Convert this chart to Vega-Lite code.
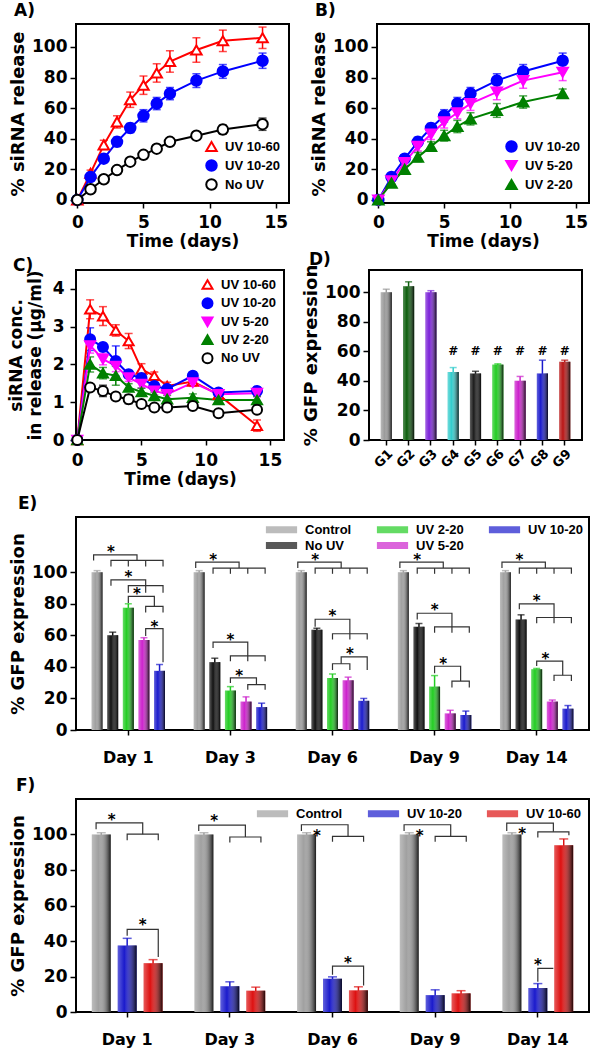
{
"$schema": "https://vega.github.io/schema/vega-lite/v6.json",
"padding": {"left": 6, "top": 1, "right": 0, "bottom": 0},
"background": "white",
"datasets": {
"relA": [
{"s":"UV 10-60","t":0,"v":0,"e":0},{"s":"UV 10-60","t":1,"v":17.5,"e":2},{"s":"UV 10-60","t":2,"v":36,"e":3},{"s":"UV 10-60","t":3,"v":51,"e":4},{"s":"UV 10-60","t":4,"v":65.5,"e":5},{"s":"UV 10-60","t":5,"v":75,"e":6},{"s":"UV 10-60","t":6,"v":83,"e":6},{"s":"UV 10-60","t":7,"v":90.5,"e":7},{"s":"UV 10-60","t":9,"v":98,"e":8},{"s":"UV 10-60","t":11,"v":104,"e":7},{"s":"UV 10-60","t":14,"v":106,"e":7},
{"s":"UV 10-20","t":0,"v":0,"e":0},{"s":"UV 10-20","t":1,"v":15,"e":2},{"s":"UV 10-20","t":2,"v":27,"e":2.5},{"s":"UV 10-20","t":3,"v":38,"e":3},{"s":"UV 10-20","t":4,"v":47,"e":3},{"s":"UV 10-20","t":5,"v":55,"e":4},{"s":"UV 10-20","t":6,"v":63,"e":4},{"s":"UV 10-20","t":7,"v":69.5,"e":4},{"s":"UV 10-20","t":9,"v":78,"e":4.5},{"s":"UV 10-20","t":11,"v":84,"e":4.5},{"s":"UV 10-20","t":14,"v":91,"e":5},
{"s":"No UV","t":0,"v":0,"e":0},{"s":"No UV","t":1,"v":7,"e":1.5},{"s":"No UV","t":2,"v":13.5,"e":1.5},{"s":"No UV","t":3,"v":19.5,"e":1.5},{"s":"No UV","t":4,"v":25,"e":2},{"s":"No UV","t":5,"v":29.5,"e":2},{"s":"No UV","t":6,"v":33.5,"e":2},{"s":"No UV","t":7,"v":38,"e":2},{"s":"No UV","t":9,"v":42,"e":2.5},{"s":"No UV","t":11,"v":46,"e":3},{"s":"No UV","t":14,"v":49.5,"e":4}
],
"relB": [
{"s":"UV 10-20","t":0,"v":0,"e":0},{"s":"UV 10-20","t":1,"v":15,"e":2},{"s":"UV 10-20","t":2,"v":27,"e":2.5},{"s":"UV 10-20","t":3,"v":38,"e":3},{"s":"UV 10-20","t":4,"v":47,"e":3},{"s":"UV 10-20","t":5,"v":55,"e":4},{"s":"UV 10-20","t":6,"v":63,"e":4},{"s":"UV 10-20","t":7,"v":69.5,"e":4},{"s":"UV 10-20","t":9,"v":78,"e":4.5},{"s":"UV 10-20","t":11,"v":84,"e":4.5},{"s":"UV 10-20","t":14,"v":91,"e":5},
{"s":"UV 5-20","t":0,"v":0,"e":0},{"s":"UV 5-20","t":1,"v":12.5,"e":2},{"s":"UV 5-20","t":2,"v":24.5,"e":2.5},{"s":"UV 5-20","t":3,"v":35,"e":3},{"s":"UV 5-20","t":4,"v":43,"e":3.5},{"s":"UV 5-20","t":5,"v":51,"e":4},{"s":"UV 5-20","t":6,"v":57,"e":4},{"s":"UV 5-20","t":7,"v":63,"e":4.5},{"s":"UV 5-20","t":9,"v":70.5,"e":5},{"s":"UV 5-20","t":11,"v":78,"e":5},{"s":"UV 5-20","t":14,"v":83.5,"e":5.5},
{"s":"UV 2-20","t":0,"v":0,"e":0},{"s":"UV 2-20","t":1,"v":11,"e":2},{"s":"UV 2-20","t":2,"v":20,"e":2.5},{"s":"UV 2-20","t":3,"v":28,"e":3},{"s":"UV 2-20","t":4,"v":35,"e":3},{"s":"UV 2-20","t":5,"v":42,"e":3.5},{"s":"UV 2-20","t":6,"v":48,"e":4},{"s":"UV 2-20","t":7,"v":53,"e":4},{"s":"UV 2-20","t":9,"v":58.5,"e":4.5},{"s":"UV 2-20","t":11,"v":64,"e":4},{"s":"UV 2-20","t":14,"v":69.5,"e":3}
],
"conc": [
{"s":"UV 10-60","t":0,"v":0,"e":0},{"s":"UV 10-60","t":1,"v":3.46,"e":0.25},{"s":"UV 10-60","t":2,"v":3.28,"e":0.25},{"s":"UV 10-60","t":3,"v":2.9,"e":0.15},{"s":"UV 10-60","t":4,"v":2.62,"e":0.2},{"s":"UV 10-60","t":5,"v":1.87,"e":0.15},{"s":"UV 10-60","t":6,"v":1.7,"e":0.1},{"s":"UV 10-60","t":7,"v":1.43,"e":0.1},{"s":"UV 10-60","t":9,"v":1.55,"e":0.1},{"s":"UV 10-60","t":11,"v":1.2,"e":0.1},{"s":"UV 10-60","t":14,"v":0.38,"e":0.15},
{"s":"UV 10-20","t":0,"v":0,"e":0},{"s":"UV 10-20","t":1,"v":2.67,"e":0.3},{"s":"UV 10-20","t":2,"v":2.46,"e":0.1},{"s":"UV 10-20","t":3,"v":2.09,"e":0.4},{"s":"UV 10-20","t":4,"v":1.74,"e":0.1},{"s":"UV 10-20","t":5,"v":1.64,"e":0.1},{"s":"UV 10-20","t":6,"v":1.43,"e":0.1},{"s":"UV 10-20","t":7,"v":1.35,"e":0.1},{"s":"UV 10-20","t":9,"v":1.7,"e":0.1},{"s":"UV 10-20","t":11,"v":1.26,"e":0.1},{"s":"UV 10-20","t":14,"v":1.3,"e":0.1},
{"s":"UV 5-20","t":0,"v":0,"e":0},{"s":"UV 5-20","t":1,"v":2.5,"e":0.2},{"s":"UV 5-20","t":2,"v":2.14,"e":0.15},{"s":"UV 5-20","t":3,"v":1.96,"e":0.15},{"s":"UV 5-20","t":4,"v":1.65,"e":0.1},{"s":"UV 5-20","t":5,"v":1.48,"e":0.1},{"s":"UV 5-20","t":6,"v":1.3,"e":0.1},{"s":"UV 5-20","t":7,"v":1.21,"e":0.1},{"s":"UV 5-20","t":9,"v":1.52,"e":0.1},{"s":"UV 5-20","t":11,"v":1.21,"e":0.1},{"s":"UV 5-20","t":14,"v":1.24,"e":0.1},
{"s":"UV 2-20","t":0,"v":0,"e":0},{"s":"UV 2-20","t":1,"v":2.0,"e":0.2},{"s":"UV 2-20","t":2,"v":1.77,"e":0.15},{"s":"UV 2-20","t":3,"v":1.7,"e":0.25},{"s":"UV 2-20","t":4,"v":1.39,"e":0.1},{"s":"UV 2-20","t":5,"v":1.27,"e":0.1},{"s":"UV 2-20","t":6,"v":1.17,"e":0.1},{"s":"UV 2-20","t":7,"v":1.08,"e":0.1},{"s":"UV 2-20","t":9,"v":1.12,"e":0.1},{"s":"UV 2-20","t":11,"v":1.06,"e":0.1},{"s":"UV 2-20","t":14,"v":1.06,"e":0.1},
{"s":"No UV","t":0,"v":0,"e":0},{"s":"No UV","t":1,"v":1.39,"e":0.05},{"s":"No UV","t":2,"v":1.3,"e":0.15},{"s":"No UV","t":3,"v":1.15,"e":0.1},{"s":"No UV","t":4,"v":1.08,"e":0.12},{"s":"No UV","t":5,"v":0.95,"e":0.08},{"s":"No UV","t":6,"v":0.86,"e":0.05},{"s":"No UV","t":7,"v":0.86,"e":0.05},{"s":"No UV","t":9,"v":0.9,"e":0.05},{"s":"No UV","t":11,"v":0.71,"e":0.05},{"s":"No UV","t":14,"v":0.8,"e":0.05}
],
"gfpD": [
{"g":"G1","v":100,"e":2,"sig":""},{"g":"G2","v":104,"e":3,"sig":""},{"g":"G3","v":100,"e":1,"sig":""},{"g":"G4","v":46,"e":3,"sig":"#"},{"g":"G5","v":45,"e":1.5,"sig":"#"},{"g":"G6","v":51,"e":0.5,"sig":"#"},{"g":"G7","v":40,"e":3,"sig":"#"},{"g":"G8","v":45,"e":9,"sig":"#"},{"g":"G9","v":53,"e":1,"sig":"#"}
],
"gfpE": [
{"day":"Day 1","s":"Control","v":100,"e":1},{"day":"Day 1","s":"No UV","v":60,"e":2},{"day":"Day 1","s":"UV 2-20","v":77.5,"e":2.5},{"day":"Day 1","s":"UV 5-20","v":57,"e":1.5},{"day":"Day 1","s":"UV 10-20","v":37.5,"e":4},
{"day":"Day 3","s":"Control","v":100,"e":1},{"day":"Day 3","s":"No UV","v":43,"e":2.5},{"day":"Day 3","s":"UV 2-20","v":25,"e":2.5},{"day":"Day 3","s":"UV 5-20","v":18,"e":3},{"day":"Day 3","s":"UV 10-20","v":14.5,"e":2.5},
{"day":"Day 6","s":"Control","v":100,"e":1},{"day":"Day 6","s":"No UV","v":63.5,"e":1},{"day":"Day 6","s":"UV 2-20","v":33,"e":2.5},{"day":"Day 6","s":"UV 5-20","v":31.5,"e":2},{"day":"Day 6","s":"UV 10-20","v":18.5,"e":1.5},
{"day":"Day 9","s":"Control","v":100,"e":1},{"day":"Day 9","s":"No UV","v":65.5,"e":2},{"day":"Day 9","s":"UV 2-20","v":27.5,"e":7},{"day":"Day 9","s":"UV 5-20","v":10.5,"e":2},{"day":"Day 9","s":"UV 10-20","v":9.5,"e":2.5},
{"day":"Day 14","s":"Control","v":100,"e":1},{"day":"Day 14","s":"No UV","v":70,"e":3},{"day":"Day 14","s":"UV 2-20","v":38.5,"e":0.5},{"day":"Day 14","s":"UV 5-20","v":18,"e":1},{"day":"Day 14","s":"UV 10-20","v":13.5,"e":2}
],
"gfpF": [
{"day":"Day 1","s":"Control","v":100,"e":1},{"day":"Day 1","s":"UV 10-20","v":37.5,"e":4},{"day":"Day 1","s":"UV 10-60","v":27.5,"e":2},
{"day":"Day 3","s":"Control","v":100,"e":1},{"day":"Day 3","s":"UV 10-20","v":14.5,"e":2.5},{"day":"Day 3","s":"UV 10-60","v":12,"e":2},
{"day":"Day 6","s":"Control","v":100,"e":1},{"day":"Day 6","s":"UV 10-20","v":18.8,"e":1},{"day":"Day 6","s":"UV 10-60","v":12.2,"e":2},
{"day":"Day 9","s":"Control","v":100,"e":1},{"day":"Day 9","s":"UV 10-20","v":9.5,"e":3},{"day":"Day 9","s":"UV 10-60","v":10.5,"e":1.5},
{"day":"Day 14","s":"Control","v":100,"e":1},{"day":"Day 14","s":"UV 10-20","v":13.5,"e":2.5},{"day":"Day 14","s":"UV 10-60","v":94,"e":3.5}
],
"brE": [
{"day":"Day 1","id":"1a1","k":1,"p":"Control","v":107.5},{"day":"Day 1","id":"1a1","k":2,"p":"Control","v":111},{"day":"Day 1","id":"1a1","k":3,"p":"m3","v":111},{"day":"Day 1","id":"1a1","k":4,"p":"m3","v":107.5},
{"day":"Day 1","id":"1a2","k":1,"p":"No UV","v":103.6},{"day":"Day 1","id":"1a2","k":2,"p":"No UV","v":107.5},{"day":"Day 1","id":"1a2","k":3,"p":"UV 10-20","v":107.5},{"day":"Day 1","id":"1a2","k":4,"p":"UV 10-20","v":103.6},
{"day":"Day 1","id":"1a3","k":1,"p":"UV 2-20","v":107.5},{"day":"Day 1","id":"1a3","k":2,"p":"UV 2-20","v":103.6},
{"day":"Day 1","id":"1a4","k":1,"p":"UV 5-20","v":107.5},{"day":"Day 1","id":"1a4","k":2,"p":"UV 5-20","v":103.6},
{"day":"Day 1","id":"1b1","k":1,"p":"No UV","v":91.5},{"day":"Day 1","id":"1b1","k":2,"p":"No UV","v":95.1},{"day":"Day 1","id":"1b1","k":3,"p":"UV 5-20","v":95.1},{"day":"Day 1","id":"1b1","k":4,"p":"UV 5-20","v":87},
{"day":"Day 1","id":"1b2","k":1,"p":"UV 2-20","v":87},{"day":"Day 1","id":"1b2","k":2,"p":"UV 2-20","v":91.5},{"day":"Day 1","id":"1b2","k":3,"p":"UV 10-20","v":91.5},{"day":"Day 1","id":"1b2","k":4,"p":"UV 10-20","v":87},
{"day":"Day 1","id":"1c1","k":1,"p":"UV 2-20","v":80.5},{"day":"Day 1","id":"1c1","k":2,"p":"UV 2-20","v":84.7},{"day":"Day 1","id":"1c1","k":3,"p":"m4","v":84.7},{"day":"Day 1","id":"1c1","k":4,"p":"m4","v":78.3},
{"day":"Day 1","id":"1c2","k":1,"p":"UV 5-20","v":74.5},{"day":"Day 1","id":"1c2","k":2,"p":"UV 5-20","v":78.3},{"day":"Day 1","id":"1c2","k":3,"p":"UV 10-20","v":78.3},{"day":"Day 1","id":"1c2","k":4,"p":"UV 10-20","v":74.5},
{"day":"Day 1","id":"1d1","k":1,"p":"UV 5-20","v":59.6},{"day":"Day 1","id":"1d1","k":2,"p":"UV 5-20","v":64.3},{"day":"Day 1","id":"1d1","k":3,"p":"UV 10-20","v":64.3},{"day":"Day 1","id":"1d1","k":4,"p":"UV 10-20","v":43},
{"day":"Day 3","id":"3a1","k":1,"p":"Control","v":102.6},{"day":"Day 3","id":"3a1","k":2,"p":"Control","v":106.4},{"day":"Day 3","id":"3a1","k":3,"p":"m3","v":106.4},{"day":"Day 3","id":"3a1","k":4,"p":"m3","v":102.6},
{"day":"Day 3","id":"3a2","k":1,"p":"No UV","v":99},{"day":"Day 3","id":"3a2","k":2,"p":"No UV","v":102.6},{"day":"Day 3","id":"3a2","k":3,"p":"UV 10-20","v":102.6},{"day":"Day 3","id":"3a2","k":4,"p":"UV 10-20","v":99},
{"day":"Day 3","id":"3a3","k":1,"p":"UV 2-20","v":102.6},{"day":"Day 3","id":"3a3","k":2,"p":"UV 2-20","v":99},
{"day":"Day 3","id":"3a4","k":1,"p":"UV 5-20","v":102.6},{"day":"Day 3","id":"3a4","k":2,"p":"UV 5-20","v":99},
{"day":"Day 3","id":"3b1","k":1,"p":"No UV","v":52},{"day":"Day 3","id":"3b1","k":2,"p":"No UV","v":55.7},{"day":"Day 3","id":"3b1","k":3,"p":"UV 5-20","v":55.7},{"day":"Day 3","id":"3b1","k":4,"p":"UV 5-20","v":43.6},
{"day":"Day 3","id":"3b2","k":1,"p":"UV 2-20","v":43.6},{"day":"Day 3","id":"3b2","k":2,"p":"UV 2-20","v":47},{"day":"Day 3","id":"3b2","k":3,"p":"UV 10-20","v":47},{"day":"Day 3","id":"3b2","k":4,"p":"UV 10-20","v":43.6},
{"day":"Day 3","id":"3c1","k":1,"p":"UV 2-20","v":29.8},{"day":"Day 3","id":"3c1","k":2,"p":"UV 2-20","v":33},{"day":"Day 3","id":"3c1","k":3,"p":"m4","v":33},{"day":"Day 3","id":"3c1","k":4,"p":"m4","v":28.7},
{"day":"Day 3","id":"3c2","k":1,"p":"UV 5-20","v":25.5},{"day":"Day 3","id":"3c2","k":2,"p":"UV 5-20","v":28.7},{"day":"Day 3","id":"3c2","k":3,"p":"UV 10-20","v":28.7},{"day":"Day 3","id":"3c2","k":4,"p":"UV 10-20","v":25.5},
{"day":"Day 6","id":"6a1","k":1,"p":"Control","v":102.6},{"day":"Day 6","id":"6a1","k":2,"p":"Control","v":106.4},{"day":"Day 6","id":"6a1","k":3,"p":"m3","v":106.4},{"day":"Day 6","id":"6a1","k":4,"p":"m3","v":102.6},
{"day":"Day 6","id":"6a2","k":1,"p":"No UV","v":99},{"day":"Day 6","id":"6a2","k":2,"p":"No UV","v":102.6},{"day":"Day 6","id":"6a2","k":3,"p":"UV 10-20","v":102.6},{"day":"Day 6","id":"6a2","k":4,"p":"UV 10-20","v":99},
{"day":"Day 6","id":"6a3","k":1,"p":"UV 2-20","v":102.6},{"day":"Day 6","id":"6a3","k":2,"p":"UV 2-20","v":99},
{"day":"Day 6","id":"6a4","k":1,"p":"UV 5-20","v":102.6},{"day":"Day 6","id":"6a4","k":2,"p":"UV 5-20","v":99},
{"day":"Day 6","id":"6b1","k":1,"p":"No UV","v":65.5},{"day":"Day 6","id":"6b1","k":2,"p":"No UV","v":70.2},{"day":"Day 6","id":"6b1","k":3,"p":"UV 5-20","v":70.2},{"day":"Day 6","id":"6b1","k":4,"p":"UV 5-20","v":57.4},
{"day":"Day 6","id":"6b2","k":1,"p":"UV 2-20","v":57.4},{"day":"Day 6","id":"6b2","k":2,"p":"UV 2-20","v":61},{"day":"Day 6","id":"6b2","k":3,"p":"UV 10-20","v":61},{"day":"Day 6","id":"6b2","k":4,"p":"UV 10-20","v":57.4},
{"day":"Day 6","id":"6c1","k":1,"p":"m3","v":42},{"day":"Day 6","id":"6c1","k":2,"p":"m3","v":46.4},{"day":"Day 6","id":"6c1","k":3,"p":"UV 10-20","v":46.4},{"day":"Day 6","id":"6c1","k":4,"p":"UV 10-20","v":38},
{"day":"Day 6","id":"6c2","k":1,"p":"UV 2-20","v":38},{"day":"Day 6","id":"6c2","k":2,"p":"UV 2-20","v":42},{"day":"Day 6","id":"6c2","k":3,"p":"UV 5-20","v":42},{"day":"Day 6","id":"6c2","k":4,"p":"UV 5-20","v":38},
{"day":"Day 9","id":"9a1","k":1,"p":"Control","v":102.6},{"day":"Day 9","id":"9a1","k":2,"p":"Control","v":106.4},{"day":"Day 9","id":"9a1","k":3,"p":"m3","v":106.4},{"day":"Day 9","id":"9a1","k":4,"p":"m3","v":102.6},
{"day":"Day 9","id":"9a2","k":1,"p":"No UV","v":99},{"day":"Day 9","id":"9a2","k":2,"p":"No UV","v":102.6},{"day":"Day 9","id":"9a2","k":3,"p":"UV 10-20","v":102.6},{"day":"Day 9","id":"9a2","k":4,"p":"UV 10-20","v":99},
{"day":"Day 9","id":"9a3","k":1,"p":"UV 2-20","v":102.6},{"day":"Day 9","id":"9a3","k":2,"p":"UV 2-20","v":99},
{"day":"Day 9","id":"9a4","k":1,"p":"UV 5-20","v":102.6},{"day":"Day 9","id":"9a4","k":2,"p":"UV 5-20","v":99},
{"day":"Day 9","id":"9b1","k":1,"p":"No UV","v":70},{"day":"Day 9","id":"9b1","k":2,"p":"No UV","v":74},{"day":"Day 9","id":"9b1","k":3,"p":"UV 5-20","v":74},{"day":"Day 9","id":"9b1","k":4,"p":"UV 5-20","v":61.7},
{"day":"Day 9","id":"9b2","k":1,"p":"UV 2-20","v":61.7},{"day":"Day 9","id":"9b2","k":2,"p":"UV 2-20","v":65.3},{"day":"Day 9","id":"9b2","k":3,"p":"UV 10-20","v":65.3},{"day":"Day 9","id":"9b2","k":4,"p":"UV 10-20","v":61.7},
{"day":"Day 9","id":"9c1","k":1,"p":"UV 2-20","v":36},{"day":"Day 9","id":"9c1","k":2,"p":"UV 2-20","v":40.4},{"day":"Day 9","id":"9c1","k":3,"p":"m4","v":40.4},{"day":"Day 9","id":"9c1","k":4,"p":"m4","v":31},
{"day":"Day 9","id":"9c2","k":1,"p":"UV 5-20","v":27},{"day":"Day 9","id":"9c2","k":2,"p":"UV 5-20","v":31},{"day":"Day 9","id":"9c2","k":3,"p":"UV 10-20","v":31},{"day":"Day 9","id":"9c2","k":4,"p":"UV 10-20","v":27},
{"day":"Day 14","id":"14a1","k":1,"p":"Control","v":102.6},{"day":"Day 14","id":"14a1","k":2,"p":"Control","v":106.4},{"day":"Day 14","id":"14a1","k":3,"p":"m3","v":106.4},{"day":"Day 14","id":"14a1","k":4,"p":"m3","v":102.6},
{"day":"Day 14","id":"14a2","k":1,"p":"No UV","v":99},{"day":"Day 14","id":"14a2","k":2,"p":"No UV","v":102.6},{"day":"Day 14","id":"14a2","k":3,"p":"UV 10-20","v":102.6},{"day":"Day 14","id":"14a2","k":4,"p":"UV 10-20","v":99},
{"day":"Day 14","id":"14a3","k":1,"p":"UV 2-20","v":102.6},{"day":"Day 14","id":"14a3","k":2,"p":"UV 2-20","v":99},
{"day":"Day 14","id":"14a4","k":1,"p":"UV 5-20","v":102.6},{"day":"Day 14","id":"14a4","k":2,"p":"UV 5-20","v":99},
{"day":"Day 14","id":"14b1","k":1,"p":"No UV","v":76.6},{"day":"Day 14","id":"14b1","k":2,"p":"No UV","v":80},{"day":"Day 14","id":"14b1","k":3,"p":"UV 5-20","v":80},{"day":"Day 14","id":"14b1","k":4,"p":"UV 5-20","v":67.7},
{"day":"Day 14","id":"14b2","k":1,"p":"UV 2-20","v":67.7},{"day":"Day 14","id":"14b2","k":2,"p":"UV 2-20","v":71.3},{"day":"Day 14","id":"14b2","k":3,"p":"UV 10-20","v":71.3},{"day":"Day 14","id":"14b2","k":4,"p":"UV 10-20","v":67.7},
{"day":"Day 14","id":"14c1","k":1,"p":"UV 2-20","v":40.5},{"day":"Day 14","id":"14c1","k":2,"p":"UV 2-20","v":43.6},{"day":"Day 14","id":"14c1","k":3,"p":"m4","v":43.6},{"day":"Day 14","id":"14c1","k":4,"p":"m4","v":34.7},
{"day":"Day 14","id":"14c2","k":1,"p":"UV 5-20","v":31},{"day":"Day 14","id":"14c2","k":2,"p":"UV 5-20","v":34.7},{"day":"Day 14","id":"14c2","k":3,"p":"UV 10-20","v":34.7},{"day":"Day 14","id":"14c2","k":4,"p":"UV 10-20","v":31}
],
"starE": [
{"day":"Day 1","p":"No UV","v":115.5},{"day":"Day 1","p":"UV 2-20","v":99.5},{"day":"Day 1","p":"m3","v":88.5},{"day":"Day 1","p":"m4","v":68},
{"day":"Day 3","p":"No UV","v":110.5},{"day":"Day 3","p":"UV 2-20","v":59.7},{"day":"Day 3","p":"m3","v":37},
{"day":"Day 6","p":"No UV","v":110.5},{"day":"Day 6","p":"UV 2-20","v":74.5},{"day":"Day 6","p":"UV 5-20","v":50.5},
{"day":"Day 9","p":"No UV","v":110.5},{"day":"Day 9","p":"UV 2-20","v":78.5},{"day":"Day 9","p":"m3","v":44.5},
{"day":"Day 14","p":"No UV","v":110.5},{"day":"Day 14","p":"UV 2-20","v":84},{"day":"Day 14","p":"m3","v":47.8}
],
"brF": [
{"day":"Day 1","id":"1a1","k":1,"p":"Control","v":103},{"day":"Day 1","id":"1a1","k":2,"p":"Control","v":106.6},{"day":"Day 1","id":"1a1","k":3,"p":"m2","v":106.6},{"day":"Day 1","id":"1a1","k":4,"p":"m2","v":100.2},
{"day":"Day 1","id":"1a2","k":1,"p":"UV 10-20","v":96.8},{"day":"Day 1","id":"1a2","k":2,"p":"UV 10-20","v":100.2},{"day":"Day 1","id":"1a2","k":3,"p":"UV 10-60","v":100.2},{"day":"Day 1","id":"1a2","k":4,"p":"UV 10-60","v":96.8},
{"day":"Day 1","id":"1b1","k":1,"p":"UV 10-20","v":43},{"day":"Day 1","id":"1b1","k":2,"p":"UV 10-20","v":46.6},{"day":"Day 1","id":"1b1","k":3,"p":"UV 10-60","v":46.6},{"day":"Day 1","id":"1b1","k":4,"p":"UV 10-60","v":31},
{"day":"Day 3","id":"3a1","k":1,"p":"Control","v":102},{"day":"Day 3","id":"3a1","k":2,"p":"Control","v":105.3},{"day":"Day 3","id":"3a1","k":3,"p":"m2","v":105.3},{"day":"Day 3","id":"3a1","k":4,"p":"m2","v":98.6},
{"day":"Day 3","id":"3a2","k":1,"p":"UV 10-20","v":95.5},{"day":"Day 3","id":"3a2","k":2,"p":"UV 10-20","v":98.6},{"day":"Day 3","id":"3a2","k":3,"p":"UV 10-60","v":98.6},{"day":"Day 3","id":"3a2","k":4,"p":"UV 10-60","v":95.5},
{"day":"Day 6","id":"6a1","k":1,"p":"Control","v":102},{"day":"Day 6","id":"6a1","k":2,"p":"Control","v":105.5},{"day":"Day 6","id":"6a1","k":3,"p":"m2","v":105.5},{"day":"Day 6","id":"6a1","k":4,"p":"m2","v":98.9},
{"day":"Day 6","id":"6a2","k":1,"p":"UV 10-20","v":95.9},{"day":"Day 6","id":"6a2","k":2,"p":"UV 10-20","v":98.9},{"day":"Day 6","id":"6a2","k":3,"p":"UV 10-60","v":98.9},{"day":"Day 6","id":"6a2","k":4,"p":"UV 10-60","v":95.9},
{"day":"Day 6","id":"6b1","k":1,"p":"UV 10-20","v":21},{"day":"Day 6","id":"6b1","k":2,"p":"UV 10-20","v":25.9},{"day":"Day 6","id":"6b1","k":3,"p":"UV 10-60","v":25.9},{"day":"Day 6","id":"6b1","k":4,"p":"UV 10-60","v":15},
{"day":"Day 9","id":"9a1","k":1,"p":"Control","v":102},{"day":"Day 9","id":"9a1","k":2,"p":"Control","v":105.5},{"day":"Day 9","id":"9a1","k":3,"p":"m2","v":105.5},{"day":"Day 9","id":"9a1","k":4,"p":"m2","v":98.9},
{"day":"Day 9","id":"9a2","k":1,"p":"UV 10-20","v":95.9},{"day":"Day 9","id":"9a2","k":2,"p":"UV 10-20","v":98.9},{"day":"Day 9","id":"9a2","k":3,"p":"UV 10-60","v":98.9},{"day":"Day 9","id":"9a2","k":4,"p":"UV 10-60","v":95.9},
{"day":"Day 14","id":"14a1","k":1,"p":"Control","v":102},{"day":"Day 14","id":"14a1","k":2,"p":"Control","v":106.4},{"day":"Day 14","id":"14a1","k":3,"p":"m2","v":106.4},{"day":"Day 14","id":"14a1","k":4,"p":"m2","v":101.5},
{"day":"Day 14","id":"14a2","k":1,"p":"UV 10-20","v":98.3},{"day":"Day 14","id":"14a2","k":2,"p":"UV 10-20","v":101.5},{"day":"Day 14","id":"14a2","k":3,"p":"UV 10-60","v":101.5},{"day":"Day 14","id":"14a2","k":4,"p":"UV 10-60","v":99.6},
{"day":"Day 14","id":"14b1","k":1,"p":"UV 10-20","v":17},{"day":"Day 14","id":"14b1","k":2,"p":"UV 10-20","v":24.6},{"day":"Day 14","id":"14b1","k":3,"p":"m2","v":24.6}
],
"starF": [
{"day":"Day 1","p":"m1","v":110.5},{"day":"Day 1","p":"m2","v":51},
{"day":"Day 3","p":"m1","v":110},
{"day":"Day 6","p":"m1","v":101.5},{"day":"Day 6","p":"m2","v":30},
{"day":"Day 9","p":"m1","v":101.5},
{"day":"Day 14","p":"m1","v":102.5},{"day":"Day 14","p":"UV 10-20","v":28.5}
]
},
"vconcat": [
{"vconcat": [
{"hconcat": [
{"title": {"text": "A)", "dx": 5},
 "width": 213, "height": 179,
 "data": {"name": "relA"},
 "encoding": {
  "x": {"field": "t", "type": "quantitative", "scale": {"domain": [-0.1, 16], "nice": false, "zero": false}, "axis": {"title": "Time (days)", "values": [0, 5, 10, 15], "labelPadding": 6, "titlePadding": 3}},
  "y": {"field": "v", "type": "quantitative", "scale": {"domain": [-2, 115], "nice": false, "zero": false}, "axis": {"title": "% siRNA release", "values": [0, 20, 40, 60, 80, 100]}}
 },
 "layer": [
  {"mark": {"type": "errorbar", "thickness": 1.5, "ticks": {"size": 8, "thickness": 1.5}},
   "encoding": {"yError": {"field": "e"}, "color": {"field": "s", "type": "nominal", "scale": {"domain": ["No UV", "UV 10-20", "UV 10-60"], "range": ["#000000", "#0000ff", "#ff0000"]}, "legend": null}}},
  {"mark": {"type": "line", "strokeWidth": 2},
   "encoding": {"color": {"field": "s", "type": "nominal", "scale": {"domain": ["No UV", "UV 10-20", "UV 10-60"], "range": ["#000000", "#0000ff", "#ff0000"]}, "legend": null}}},
  {"mark": {"type": "point", "size": 110, "strokeWidth": 2, "opacity": 1},
   "encoding": {
    "stroke": {"field": "s", "type": "nominal", "scale": {"domain": ["UV 10-60", "UV 10-20", "No UV"], "range": ["#ff0000", "#0000ff", "#000000"]}, "legend": {"title": null, "orient": "bottom-right", "offset": 9, "symbolSize": 110, "symbolStrokeWidth": 2, "labelOffset": 7, "rowPadding": 0}},
    "fill": {"field": "s", "type": "nominal", "scale": {"domain": ["UV 10-60", "UV 10-20", "No UV"], "range": ["#ffffff", "#0000ff", "#ffffff"]}, "legend": {"title": null, "orient": "bottom-right", "offset": 9, "symbolSize": 110, "symbolStrokeWidth": 2, "labelOffset": 7, "rowPadding": 0}},
    "shape": {"field": "s", "type": "nominal", "scale": {"domain": ["UV 10-60", "UV 10-20", "No UV"], "range": ["triangle-up", "circle", "circle"]}, "legend": {"title": null, "orient": "bottom-right", "offset": 9, "symbolSize": 110, "symbolStrokeWidth": 2, "labelOffset": 7, "rowPadding": 0}}
   }}
 ]
},
{"title": {"text": "B)", "dx": 5},
 "width": 212, "height": 179,
 "data": {"name": "relB"},
 "encoding": {
  "x": {"field": "t", "type": "quantitative", "scale": {"domain": [-0.1, 16], "nice": false, "zero": false}, "axis": {"title": "Time (days)", "values": [0, 5, 10, 15], "labelPadding": 6, "titlePadding": 3}},
  "y": {"field": "v", "type": "quantitative", "scale": {"domain": [-2, 115], "nice": false, "zero": false}, "axis": {"title": "% siRNA release", "values": [0, 20, 40, 60, 80, 100]}}
 },
 "layer": [
  {"mark": {"type": "errorbar", "thickness": 1.5, "ticks": {"size": 8, "thickness": 1.5}},
   "encoding": {"yError": {"field": "e"}, "color": {"field": "s", "type": "nominal", "scale": {"domain": ["UV 2-20", "UV 5-20", "UV 10-20"], "range": ["#008000", "#ff00ff", "#0000ff"]}, "legend": null}}},
  {"mark": {"type": "line", "strokeWidth": 2},
   "encoding": {"color": {"field": "s", "type": "nominal", "scale": {"domain": ["UV 2-20", "UV 5-20", "UV 10-20"], "range": ["#008000", "#ff00ff", "#0000ff"]}, "legend": null}}},
  {"mark": {"type": "point", "size": 110, "strokeWidth": 2, "opacity": 1},
   "encoding": {
    "stroke": {"field": "s", "type": "nominal", "scale": {"domain": ["UV 10-20", "UV 5-20", "UV 2-20"], "range": ["#0000ff", "#ff00ff", "#008000"]}, "legend": {"title": null, "orient": "bottom-right", "offset": 9, "symbolSize": 110, "symbolStrokeWidth": 2, "labelOffset": 7, "rowPadding": 0}},
    "fill": {"field": "s", "type": "nominal", "scale": {"domain": ["UV 10-20", "UV 5-20", "UV 2-20"], "range": ["#0000ff", "#ff00ff", "#008000"]}, "legend": {"title": null, "orient": "bottom-right", "offset": 9, "symbolSize": 110, "symbolStrokeWidth": 2, "labelOffset": 7, "rowPadding": 0}},
    "shape": {"field": "s", "type": "nominal", "scale": {"domain": ["UV 10-20", "UV 5-20", "UV 2-20"], "range": ["circle", "triangle-down", "triangle-up"]}, "legend": {"title": null, "orient": "bottom-right", "offset": 9, "symbolSize": 110, "symbolStrokeWidth": 2, "labelOffset": 7, "rowPadding": 0}}
   }}
 ]
}
], "spacing": 19,
 "resolve": {"scale": {"color": "independent", "stroke": "independent", "fill": "independent", "shape": "independent"}, "legend": {"color": "independent", "stroke": "independent", "fill": "independent", "shape": "independent"}}},
{"vconcat": [
{"hconcat": [
{"title": {"text": "C)", "dx": 6, "offset": -5},
 "width": 208, "height": 170,
 "data": {"name": "conc"},
 "encoding": {
  "x": {"field": "t", "type": "quantitative", "scale": {"domain": [-0.1, 16.1], "nice": false, "zero": false}, "axis": {"title": "Time (days)", "values": [0, 5, 10, 15], "labelPadding": 7, "titlePadding": 3}},
  "y": {"field": "v", "type": "quantitative", "scale": {"domain": [0, 4.5], "nice": false, "zero": false}, "axis": {"title": ["siRNA conc.", "in release (μg/ml)"], "titleFontSize": 17, "values": [0, 1, 2, 3, 4], "labelPadding": 6, "titlePadding": 6, "minExtent": 26, "maxExtent": 26}}
 },
 "layer": [
  {"mark": {"type": "errorbar", "thickness": 1.5, "ticks": {"size": 8, "thickness": 1.5}},
   "encoding": {"yError": {"field": "e"}, "color": {"field": "s", "type": "nominal", "scale": {"domain": ["No UV", "UV 2-20", "UV 5-20", "UV 10-20", "UV 10-60"], "range": ["#000000", "#008000", "#ff00ff", "#0000ff", "#ff0000"]}, "legend": null}}},
  {"mark": {"type": "line", "strokeWidth": 2},
   "encoding": {"color": {"field": "s", "type": "nominal", "scale": {"domain": ["No UV", "UV 2-20", "UV 5-20", "UV 10-20", "UV 10-60"], "range": ["#000000", "#008000", "#ff00ff", "#0000ff", "#ff0000"]}, "legend": null}}},
  {"mark": {"type": "point", "size": 100, "strokeWidth": 2, "opacity": 1},
   "encoding": {
    "stroke": {"field": "s", "type": "nominal", "scale": {"domain": ["UV 10-60", "UV 10-20", "UV 5-20", "UV 2-20", "No UV"], "range": ["#ff0000", "#0000ff", "#ff00ff", "#008000", "#000000"]}, "legend": {"title": null, "orient": "top-right", "offset": 8, "symbolSize": 100, "symbolStrokeWidth": 2, "labelOffset": 7, "rowPadding": 0.7}},
    "fill": {"field": "s", "type": "nominal", "scale": {"domain": ["UV 10-60", "UV 10-20", "UV 5-20", "UV 2-20", "No UV"], "range": ["#ffffff", "#0000ff", "#ff00ff", "#008000", "#ffffff"]}, "legend": {"title": null, "orient": "top-right", "offset": 8, "symbolSize": 100, "symbolStrokeWidth": 2, "labelOffset": 7, "rowPadding": 0.7}},
    "shape": {"field": "s", "type": "nominal", "scale": {"domain": ["UV 10-60", "UV 10-20", "UV 5-20", "UV 2-20", "No UV"], "range": ["triangle-up", "circle", "triangle-down", "triangle-up", "circle"]}, "legend": {"title": null, "orient": "top-right", "offset": 8, "symbolSize": 100, "symbolStrokeWidth": 2, "labelOffset": 7, "rowPadding": 0.7}}
   }}
 ]
},
{"title": {"text": "D)", "dx": 7, "offset": -5},
 "width": 213, "height": 170,
 "data": {"name": "gfpD"},
 "encoding": {
  "x": {"field": "g", "type": "nominal", "scale": {"paddingInner": 0.5, "paddingOuter": 0.525}, "axis": {"title": null, "labelAngle": -45, "labelFontSize": 13, "labelPadding": 2}},
  "y": {"field": "v", "type": "quantitative", "scale": {"domain": [0, 115], "nice": false}, "axis": {"title": "% GFP expression", "values": [0, 20, 40, 60, 80, 100]}}
 },
 "layer": [
  {"mark": {"type": "errorbar", "thickness": 1.5, "ticks": {"size": 7, "thickness": 1.5}},
   "encoding": {"yError": {"field": "e"}, "color": {"field": "g", "type": "nominal", "scale": {"domain": ["G1","G2","G3","G4","G5","G6","G7","G8","G9"], "range": ["#9a9a9a","#0b5d0b","#7b22d8","#33cccc","#1a1a1a","#22cc22","#cc22cc","#1a1acc","#b81414"]}, "legend": null}}},
  {"mark": {"type": "bar"},
   "encoding": {"color": {"field": "g", "type": "nominal", "scale": {"domain": ["G1","G2","G3","G4","G5","G6","G7","G8","G9"], "range": ["#9a9a9a","#0b5d0b","#7b22d8","#33cccc","#1a1a1a","#22cc22","#cc22cc","#1a1acc","#b81414"]}, "legend": null}}},
  {"mark": {"type": "bar", "fill": {"gradient": "linear", "x1": 0, "y1": 0, "x2": 1, "y2": 0, "stops": [{"offset": 0, "color": "rgba(255,255,255,0.3)"}, {"offset": 0.35, "color": "rgba(255,255,255,0)"}, {"offset": 1, "color": "rgba(0,0,0,0.85)"}]}}},
  {"mark": {"type": "text", "font": "DejaVu Sans", "fontWeight": "bold", "fontSize": 12, "baseline": "middle"},
   "encoding": {"text": {"field": "sig"}, "y": {"datum": 60}}}
 ]
}
], "spacing": 16,
 "resolve": {"scale": {"color": "independent", "stroke": "independent", "fill": "independent", "shape": "independent"}, "legend": {"color": "independent", "stroke": "independent", "fill": "independent", "shape": "independent"}}},
{"title": {"text": "E)", "dx": 9},
 "width": 513, "height": 213,
 "encoding": {
  "x": {"field": "day", "type": "nominal", "scale": {"domain": ["Day 1", "Day 3", "Day 6", "Day 9", "Day 14"], "paddingInner": 0.235, "paddingOuter": 0.13}, "axis": {"title": null, "labelPadding": 14, "labelFontSize": 16}},
  "y": {"field": "v", "type": "quantitative", "scale": {"domain": [0, 135], "nice": false}, "axis": {"title": "% GFP expression", "values": [0, 20, 40, 60, 80, 100]}}
 },
 "layer": [
  {"data": {"name": "gfpE"},
   "encoding": {"xOffset": {"field": "s", "type": "nominal", "scale": {"domain": ["Control", "No UV", "UV 2-20", "UV 5-20", "UV 10-20"], "paddingInner": 0.3, "paddingOuter": 0.15}}},
   "layer": [
    {"mark": {"type": "errorbar", "thickness": 1.5, "ticks": {"size": 7, "thickness": 1.5}},
     "encoding": {"yError": {"field": "e"}, "color": {"field": "s", "type": "nominal", "scale": {"domain": ["Control", "No UV", "UV 2-20", "UV 5-20", "UV 10-20"], "range": ["#a0a0a0", "#111111", "#22cc22", "#cc22cc", "#1a1acc"]}, "legend": {"title": null, "orient": "top-right", "offset": 6, "columns": 3, "columnPadding": 24, "rowPadding": 2, "symbolType": "M-3.9,-0.85H3.9V0.85H-3.9Z", "symbolSize": 64, "symbolStrokeWidth": 0, "labelOffset": 17}}}},
    {"mark": {"type": "bar"},
     "encoding": {"color": {"field": "s", "type": "nominal", "scale": {"domain": ["Control", "No UV", "UV 2-20", "UV 5-20", "UV 10-20"], "range": ["#a0a0a0", "#111111", "#22cc22", "#cc22cc", "#1a1acc"]}, "legend": {"title": null, "orient": "top-right", "offset": 6, "columns": 3, "columnPadding": 24, "rowPadding": 2, "symbolType": "M-3.9,-0.85H3.9V0.85H-3.9Z", "symbolSize": 64, "symbolStrokeWidth": 0, "labelOffset": 17}}}},
    {"mark": {"type": "bar", "fill": {"gradient": "linear", "x1": 0, "y1": 0, "x2": 1, "y2": 0, "stops": [{"offset": 0, "color": "rgba(255,255,255,0.3)"}, {"offset": 0.35, "color": "rgba(255,255,255,0)"}, {"offset": 1, "color": "rgba(0,0,0,0.85)"}]}}}
   ]},
  {"encoding": {"xOffset": {"field": "p", "type": "nominal", "scale": {"domain": ["Control", "m1", "No UV", "m2", "UV 2-20", "m3", "UV 5-20", "m4", "UV 10-20"], "paddingInner": 0, "paddingOuter": 0.5}}},
   "layer": [
    {"data": {"name": "brE"}, "mark": {"type": "line", "color": "#333333", "strokeWidth": 1.2},
     "encoding": {"detail": {"field": "id"}, "order": {"field": "k", "type": "quantitative"}}},
    {"data": {"name": "starE"}, "mark": {"type": "text", "text": "*", "font": "DejaVu Sans", "fontWeight": "bold", "fontSize": 15, "baseline": "middle", "dy": 4}}
   ]}
 ],
 "resolve": {"scale": {"xOffset": "independent"}}
}
], "spacing": 6,
 "resolve": {"scale": {"color": "independent", "stroke": "independent", "fill": "independent", "shape": "independent"}, "legend": {"color": "independent", "stroke": "independent", "fill": "independent", "shape": "independent"}}}
], "spacing": 0,
 "resolve": {"scale": {"color": "independent", "stroke": "independent", "fill": "independent", "shape": "independent"}, "legend": {"color": "independent", "stroke": "independent", "fill": "independent", "shape": "independent"}}},
{"title": {"text": "F)", "dx": 7},
 "width": 513, "height": 213,
 "encoding": {
  "x": {"field": "day", "type": "nominal", "scale": {"domain": ["Day 1", "Day 3", "Day 6", "Day 9", "Day 14"], "paddingInner": 0.243, "paddingOuter": 0.12}, "axis": {"title": null, "labelPadding": 14, "labelFontSize": 16}},
  "y": {"field": "v", "type": "quantitative", "scale": {"domain": [0, 120], "nice": false}, "axis": {"title": "% GFP expression", "values": [0, 20, 40, 60, 80, 100]}}
 },
 "layer": [
  {"data": {"name": "gfpF"},
   "encoding": {"xOffset": {"field": "s", "type": "nominal", "scale": {"domain": ["Control", "UV 10-20", "UV 10-60"], "paddingInner": 0.27, "paddingOuter": 0.135}}},
   "layer": [
    {"mark": {"type": "errorbar", "thickness": 1.5, "ticks": {"size": 9, "thickness": 1.5}},
     "encoding": {"yError": {"field": "e"}, "color": {"field": "s", "type": "nominal", "scale": {"domain": ["Control", "UV 10-20", "UV 10-60"], "range": ["#a0a0a0", "#1a1acc", "#dd1111"]}, "legend": {"title": null, "orient": "top-right", "offset": 8, "direction": "horizontal", "columnPadding": 24, "symbolType": "M-3.9,-0.85H3.9V0.85H-3.9Z", "symbolSize": 64, "symbolStrokeWidth": 0, "labelOffset": 17}}}},
    {"mark": {"type": "bar"},
     "encoding": {"color": {"field": "s", "type": "nominal", "scale": {"domain": ["Control", "UV 10-20", "UV 10-60"], "range": ["#a0a0a0", "#1a1acc", "#dd1111"]}, "legend": {"title": null, "orient": "top-right", "offset": 8, "direction": "horizontal", "columnPadding": 24, "symbolType": "M-3.9,-0.85H3.9V0.85H-3.9Z", "symbolSize": 64, "symbolStrokeWidth": 0, "labelOffset": 17}}}},
    {"mark": {"type": "bar", "fill": {"gradient": "linear", "x1": 0, "y1": 0, "x2": 1, "y2": 0, "stops": [{"offset": 0, "color": "rgba(255,255,255,0.3)"}, {"offset": 0.35, "color": "rgba(255,255,255,0)"}, {"offset": 1, "color": "rgba(0,0,0,0.85)"}]}}}
   ]},
  {"encoding": {"xOffset": {"field": "p", "type": "nominal", "scale": {"domain": ["Control", "m1", "UV 10-20", "m2", "UV 10-60"], "paddingInner": 0, "paddingOuter": 0.5}}},
   "layer": [
    {"data": {"name": "brF"}, "mark": {"type": "line", "color": "#333333", "strokeWidth": 1.2},
     "encoding": {"detail": {"field": "id"}, "order": {"field": "k", "type": "quantitative"}}},
    {"data": {"name": "starF"}, "mark": {"type": "text", "text": "*", "font": "DejaVu Sans", "fontWeight": "bold", "fontSize": 15, "baseline": "middle", "dy": 4}}
   ]}
 ],
 "resolve": {"scale": {"xOffset": "independent"}}
}
],
"spacing": 10,
"resolve": {"scale": {"color": "independent", "stroke": "independent", "fill": "independent", "shape": "independent"}, "legend": {"color": "independent", "stroke": "independent", "fill": "independent", "shape": "independent"}},
"config": {
 "font": "DejaVu Sans",
 "view": {"stroke": "black", "strokeWidth": 2},
 "axis": {"labelFont": "DejaVu Sans", "labelFontWeight": "bold", "labelFontSize": 17, "labelColor": "black", "titleFont": "DejaVu Sans", "titleFontWeight": "bold", "titleFontSize": 18, "titleColor": "black", "grid": false, "domain": false, "tickColor": "black", "tickWidth": 1.5, "tickSize": 6},
 "axisX": {"labelPadding": 9, "titlePadding": 3, "labelAngle": 0, "titleFontSize": 17, "tickSize": 5},
 "axisY": {"labelPadding": 3, "titlePadding": 4, "minExtent": 45, "maxExtent": 45},
 "legend": {"labelFont": "Liberation Sans", "labelFontWeight": "bold", "labelFontSize": 13, "labelColor": "black", "padding": 0},
 "title": {"font": "DejaVu Sans", "fontWeight": "bold", "fontSize": 17, "anchor": "start", "frame": "bounds", "offset": 0, "baseline": "alphabetic", "color": "black"}
}
}
